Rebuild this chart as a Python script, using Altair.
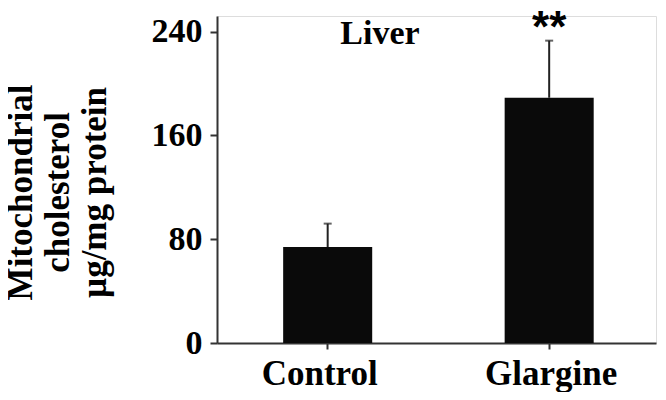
import altair as alt
import pandas as pd

groups = ["Control", "Glargine"]
means = [74, 189]
upper = [92, 233]
marks = ["", "**"]
y_ticks = [0, 80, 160, 240]
y_title = ["Mitochondrial", "cholesterol", "µg/mg protein"]
panel_title = ["Liver"]

df = pd.DataFrame({"group": groups, "mean": means, "upper": upper, "sig": marks})
tdf = pd.DataFrame({"label": panel_title})

serif = "Liberation Serif"
axis_col = "#333333"

x_enc = alt.X(
    "group:N", sort=groups,
    scale=alt.Scale(paddingInner=0.598, paddingOuter=0.29, align=0.515),
    axis=alt.Axis(
        title=None, labelAngle=0, labelFont=serif, labelFontSize=35,
        labelFontWeight="bold", labelColor="black", labelPadding=7,
        tickSize=6, tickWidth=2, tickColor=axis_col,
        domainColor=axis_col, domainWidth=2,
        labelOffset={"condition": {"test": "datum.value === 'Control'", "value": -8}, "value": 2},
    ),
)

y_axis = alt.Axis(
    values=y_ticks, grid=False,
    title=y_title, titleFont=serif, titleFontSize=35, titleFontWeight="bold",
    titleColor="black", titleAngle=270, titleX=-186, titleY=176,
    titleAlign="center", titleBaseline="alphabetic", titleLineHeight=37,
    labelFont=serif, labelFontSize=34, labelFontWeight="bold", labelColor="black",
    labelPadding=8, tickSize=7, tickWidth=2, tickColor=axis_col,
    domainColor=axis_col, domainWidth=2,
)
y_scale = alt.Scale(domain=[0, 252], nice=False)

base = alt.Chart(df)

bars = base.mark_bar(color="#0a0a0a").encode(
    x=x_enc, y=alt.Y("mean:Q", scale=y_scale, axis=y_axis)
)
err = base.mark_rule(color="#222222", strokeWidth=2).encode(
    x=x_enc, y=alt.Y("mean:Q", scale=y_scale, axis=y_axis), y2="upper:Q"
)
cap = base.mark_tick(color="#222222", thickness=2, size=8).encode(
    x=x_enc, y=alt.Y("upper:Q", scale=y_scale, axis=y_axis)
)
stars = base.mark_text(
    font="Liberation Sans", fontWeight="bold", fontSize=44, color="black",
    baseline="alphabetic", align="center", dy=1,
).encode(
    x=x_enc, y=alt.Y("upper:Q", scale=y_scale, axis=y_axis), text="sig:N"
)
liver = alt.Chart(tdf).mark_text(
    font=serif, fontWeight="bold", fontSize=34, color="black",
    baseline="alphabetic", align="center",
).encode(x=alt.value(163), y=alt.value(28), text="label:N")

chart = alt.layer(bars, err, cap, stars, liver).properties(
    width=439, height=327,
    autosize="none",
    padding={"left": 209, "top": 8, "right": 2, "bottom": 49},
).configure_view(stroke=None).configure(background="white")

chart.save("out.html", embed_options={"renderer": "svg", "actions": False})
